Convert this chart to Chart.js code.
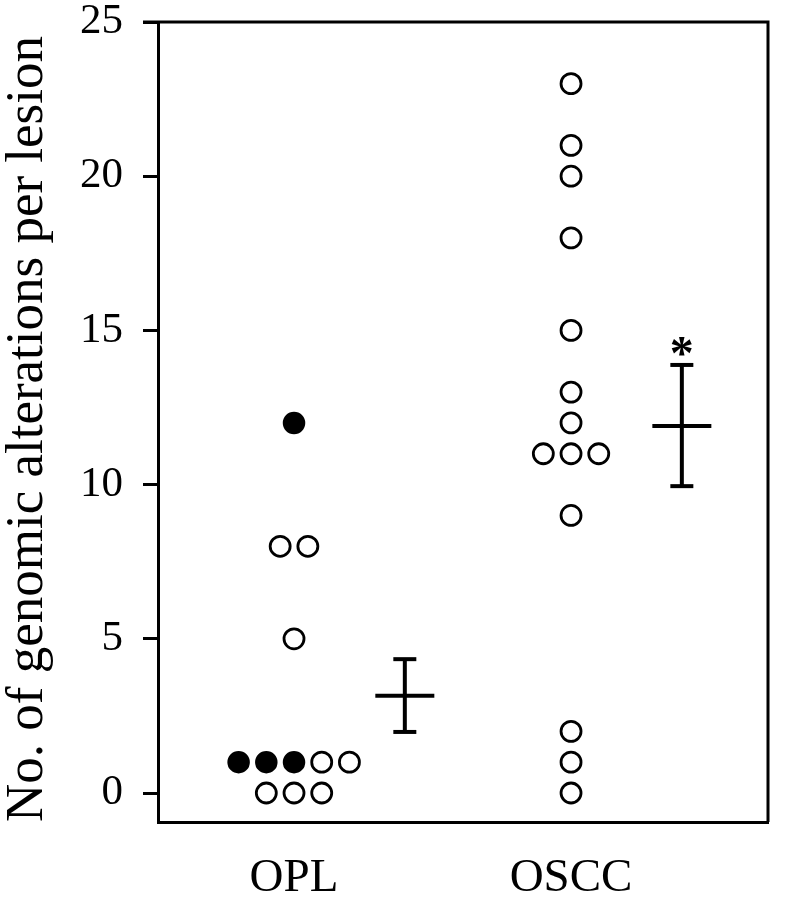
<!DOCTYPE html>
<html><head><meta charset="utf-8">
<script src="https://cdn.jsdelivr.net/npm/chart.js@4"></script>
<style>html,body{margin:0;padding:0;background:#fff}#wrap{width:786px;height:900px}</style>
</head><body><div id="wrap"><canvas id="c" width="786" height="900"></canvas></div>
<script>
// ---- data ----
const categories = ['OPL', 'OSCC'];
const oplFilled = [12, 1, 1, 1];
const oplOpen = [8, 8, 5, 1, 1, 0, 0, 0];
const osccFilled = [];
const osccOpen = [23, 21, 20, 18, 15, 13, 12, 11, 11, 11, 9, 2, 1, 0];
const means = [3.15, 11.9];
const errLow = [1.98, 9.95];
const errHigh = [4.34, 13.88];
const significance = ['', '*'];
const yTicks = [0, 5, 10, 15, 20, 25];

// ---- layout helpers ----
const DOT_STEP = 0.1;      // horizontal spacing of tied dots (category units)
const MEAN_OFFSET = 0.4;   // mean bar offset from category centre
const MEAN_HALF = 0.1065;
const CAP_HALF = 0.0415;

function dotLayout(catIndex, filled, open) {
  const all = filled.map(v => ({v, f: true})).concat(open.map(v => ({v, f: false})));
  const groups = new Map();
  all.forEach(p => { if (!groups.has(p.v)) groups.set(p.v, []); groups.get(p.v).push(p); });
  const out = {filled: [], open: []};
  groups.forEach(g => {
    g.forEach((p, i) => {
      const x = catIndex + 1 + (i - (g.length - 1) / 2) * DOT_STEP;
      (p.f ? out.filled : out.open).push({x, y: p.v});
    });
  });
  return out;
}

const groupsData = [dotLayout(0, oplFilled, oplOpen), dotLayout(1, osccFilled, osccOpen)];

const datasets = [];
groupsData.forEach(g => {
  datasets.push({data: g.filled, pointRadius: 10, pointBorderWidth: 2.5,
    pointBackgroundColor: '#000', pointBorderColor: '#000', showLine: false});
  datasets.push({data: g.open, pointRadius: 10, pointBorderWidth: 2.8,
    pointBackgroundColor: '#fff', pointBorderColor: '#000', showLine: false});
});
const lineDs = (pts) => ({data: pts, showLine: true, pointRadius: 0, borderWidth: 4,
  borderColor: '#000', fill: false, tension: 0});
means.forEach((m, i) => {
  const cx = i + 1 + MEAN_OFFSET;
  datasets.push(lineDs([{x: cx - MEAN_HALF, y: m}, {x: cx + MEAN_HALF, y: m}]));
  datasets.push(lineDs([{x: cx, y: errLow[i]}, {x: cx, y: errHigh[i]}]));
  datasets.push(lineDs([{x: cx - CAP_HALF, y: errLow[i]}, {x: cx + CAP_HALF, y: errLow[i]}]));
  datasets.push(lineDs([{x: cx - CAP_HALF, y: errHigh[i]}, {x: cx + CAP_HALF, y: errHigh[i]}]));
});

const framePlugin = {
  id: 'frame',
  afterDraw(chart) {
    const {ctx, chartArea: a, scales: {x, y}} = chart;
    ctx.save();
    ctx.strokeStyle = '#000';
    ctx.lineWidth = 3;
    ctx.beginPath();
    ctx.moveTo(a.left - 15, a.top);
    ctx.lineTo(a.right, a.top);
    ctx.lineTo(a.right, a.bottom);
    ctx.stroke();
    ctx.fillStyle = '#000';
    ctx.font = 'bold 48px "Liberation Serif"';
    ctx.textAlign = 'center';
    ctx.textBaseline = 'alphabetic';
    significance.forEach((s, i) => {
      if (!s) return;
      ctx.fillText(s, x.getPixelForValue(i + 1 + MEAN_OFFSET), y.getPixelForValue(errHigh[i]) + 4);
    });
    ctx.restore();
  }
};

new Chart(document.getElementById('c'), {
  type: 'scatter',
  data: {datasets},
  options: {
    responsive: false,
    animation: false,
    events: [],
    layout: {padding: {left: 0, top: 22, right: 18, bottom: 0}},
    plugins: {legend: {display: false}, tooltip: {enabled: false}},
    scales: {
      x: {
        type: 'linear', min: 0.509, max: 2.711,
        afterBuildTicks: s => { s.ticks = categories.map((c, i) => ({value: i + 1})); },
        ticks: {
          callback: (v, i) => categories[i],
          font: {family: 'Liberation Serif', size: 47}, color: '#000', padding: 28,
          maxRotation: 0, autoSkip: false
        },
        grid: {display: false, drawTicks: false},
        border: {display: true, color: '#000', width: 3},
        afterFit: s => { s.height = 78; s.paddingLeft = 0; s.paddingRight = 0; }
      },
      y: {
        type: 'linear', min: -0.94, max: 25,
        afterBuildTicks: s => { s.ticks = yTicks.map(v => ({value: v})); },
        ticks: {font: {family: 'Liberation Serif', size: 43, lineHeight: 1}, color: '#000', padding: 20},
        grid: {display: true, drawOnChartArea: false, drawTicks: true, tickLength: 15,
          tickWidth: 3, tickColor: '#000'},
        border: {display: true, color: '#000', width: 3},
        title: {display: true, text: 'No. of genomic alterations per lesion', align: 'start',
          font: {family: 'Liberation Serif', size: 53, lineHeight: 1}, color: '#000',
          padding: {top: 2, bottom: 0}},
        afterFit: s => { s.width = 158; s.paddingTop = 0; s.paddingBottom = 0; }
      }
    }
  },
  plugins: [framePlugin]
});
</script>
</body></html>
